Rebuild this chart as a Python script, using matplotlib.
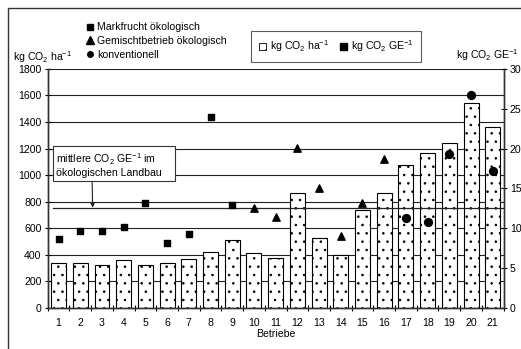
import matplotlib.pyplot as plt
import numpy as np
from matplotlib.patches import Patch, Rectangle
from matplotlib.lines import Line2D

plt.rcParams['font.family'] = ['Liberation Sans', 'DejaVu Sans']
plt.rcParams['font.size'] = 7.6
plt.rcParams['mathtext.default'] = 'regular'
plt.rcParams['hatch.linewidth'] = 0.6

# Betriebe 1..21
betriebe = list(range(1, 22))
# kg CO2 / ha (Saeulen, linke Achse)
co2_ha = [337, 341, 321, 364, 321, 339, 371, 419, 512, 417, 376,
          868, 525, 401, 738, 863, 1074, 1165, 1245, 1546, 1365]

# kg CO2 / GE (rechte Achse), je Betriebstyp
markfrucht_x = [1, 2, 3, 4, 5, 6, 7, 8, 9]
markfrucht_y = [8.7, 9.7, 9.7, 10.2, 13.2, 8.2, 9.3, 24.0, 12.9]
gemischt_x = [10, 11, 12, 13, 14, 15, 16]
gemischt_y = [12.6, 11.4, 20.1, 15.1, 9.0, 13.2, 18.7]
konv_x = [17, 18, 19, 20, 21]
konv_y = [11.3, 10.8, 19.3, 26.7, 17.2]
mittel_oeko = 12.6

fig = plt.figure(figsize=(5.21, 3.49), dpi=100)
ax = fig.add_axes([0.0916, 0.1175, 0.875, 0.685])
ax2 = ax.twinx()

ax.bar(betriebe, co2_ha, width=0.69, color='white', edgecolor='black',
       hatch='..', linewidth=0.8, zorder=2)
ax.set_xlim(0.5, 21.5)
ax.set_ylim(0, 1800)
ax.set_yticks(range(0, 1801, 200))
for v in range(200, 1801, 200):
    ax.axhline(v, color='#222222', lw=0.8, zorder=1)

ax2.set_ylim(0, 30)
ax2.set_yticks(range(0, 31, 5))
ax2.scatter(markfrucht_x, markfrucht_y, marker='s', s=20, color='black', zorder=5)
ax2.scatter(gemischt_x, gemischt_y, marker='^', s=28, color='black', zorder=5)
ax2.scatter(konv_x, konv_y, marker='o', s=32, color='black', zorder=5)
ax2.axhline(mittel_oeko, xmin=0.012, xmax=1, color='#222222', lw=0.9, zorder=4)

ax.set_xticks(betriebe)
ax.set_xticks(np.arange(0.5, 21.6, 1), minor=True)
ax.tick_params(axis='x', which='major', length=0, pad=7)
ax.tick_params(axis='x', which='minor', length=4, direction='inout', width=0.8)
ax.tick_params(axis='y', length=5, direction='inout', width=0.8, pad=2)
ax2.tick_params(axis='y', length=5, direction='inout', width=0.8, pad=2)
for a in (ax, ax2):
    a.spines['top'].set_visible(False)
    for s in ('left', 'right', 'bottom'):
        a.spines[s].set_linewidth(1.0)
        a.spines[s].set_color('#333333')

ax.set_xlabel('Betriebe', labelpad=1)

fig.text(13 / 521, 1 - 57 / 349, 'kg CO$_2$ ha$^{-1}$', ha='left', va='center')
fig.text(519 / 521, 1 - 55 / 349, 'kg CO$_2$ GE$^{-1}$', ha='right', va='center')

# Annotation fuer den Mittelwert
ax2.annotate('mittlere CO$_2$ GE$^{-1}$ im      \nökologischen Landbau',
             xy=(2.57, mittel_oeko), xytext=(0.9, 18.0),
             ha='left', va='center',
             bbox=dict(boxstyle='square,pad=0.3', fc='white', ec='#333333', lw=0.8),
             arrowprops=dict(arrowstyle='-|>', color='#222222', lw=0.8,
                             mutation_scale=6, shrinkA=0, shrinkB=0,
                             relpos=(0.31, 0.0)),
             zorder=6)

# Legende Betriebstypen (ohne Rahmen)
typ_handles = [Line2D([], [], marker='s', ls='', color='black', markersize=4),
               Line2D([], [], marker='^', ls='', color='black', markersize=5.5),
               Line2D([], [], marker='o', ls='', color='black', markersize=4)]
fig.legend(typ_handles, ['Markfrucht ökologisch', 'Gemischtbetrieb ökologisch',
                         'konventionell'],
           loc='upper left', bbox_to_anchor=(80 / 521, 1 - 17 / 349), frameon=False,
           handlelength=0.8, handletextpad=0.3, labelspacing=0.35, borderpad=0)

# Legende Einheiten (mit Rahmen)
unit_handles = [Patch(facecolor='white', edgecolor='black', hatch='..', lw=0.6),
                Patch(facecolor='black', edgecolor='black')]
leg = fig.legend(unit_handles, ['kg CO$_2$ ha$^{-1}$', 'kg CO$_2$ GE$^{-1}$'],
                 loc='upper left', bbox_to_anchor=(246 / 521, 1 - 26 / 349), ncol=2,
                 frameon=True, fancybox=False, edgecolor='#333333',
                 handlelength=0.7, handleheight=0.7, handletextpad=0.4,
                 columnspacing=1.0, borderpad=0.7)
leg.get_frame().set_linewidth(0.8)

# Rahmen um die gesamte Grafik
fig.patches.append(Rectangle((8 / 521, -0.1), 1.2, 1.1 - 8 / 349, transform=fig.transFigure,
                             fill=False, ec='#333333', lw=1.0))

fig.savefig('out.png', dpi=100)
